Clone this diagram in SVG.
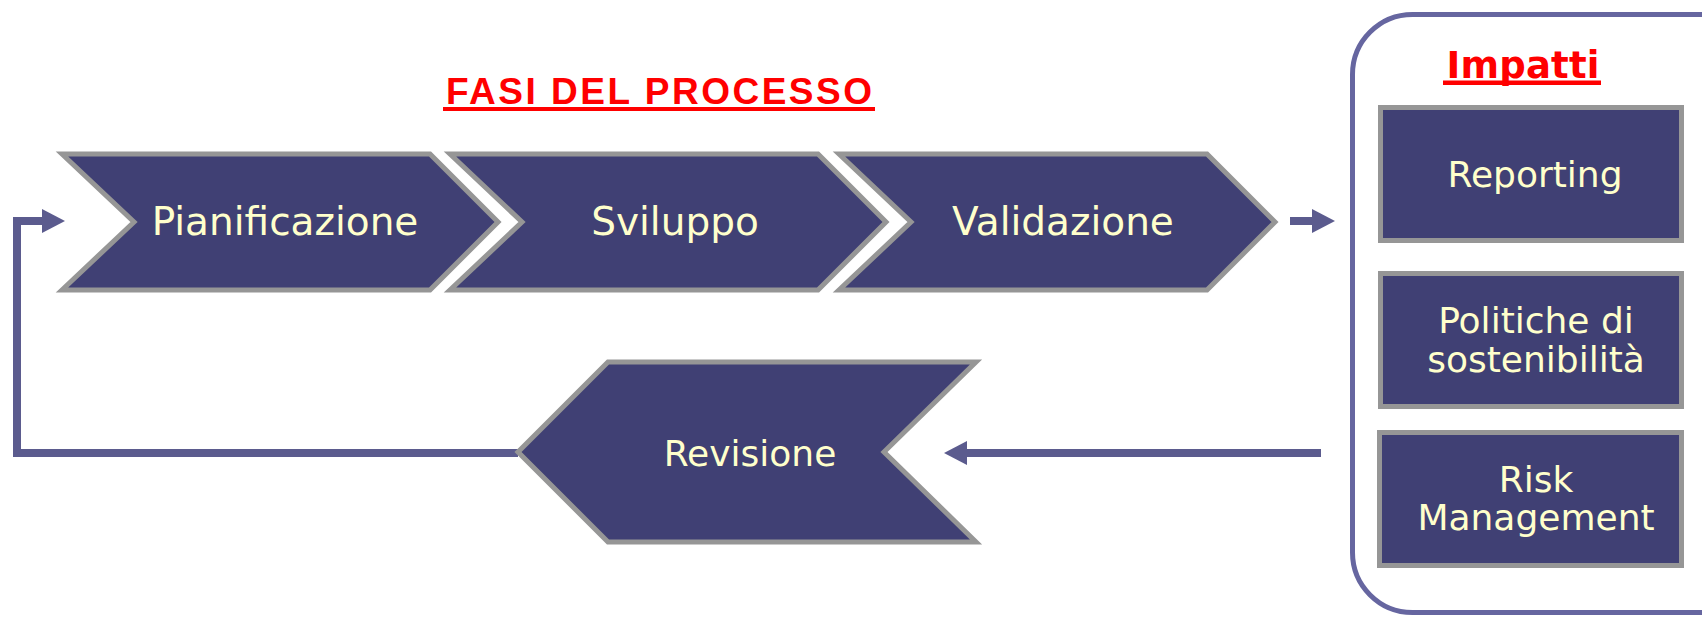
<svg xmlns="http://www.w3.org/2000/svg" width="1702" height="619" viewBox="0 0 1702 619">
<style>
.shape{fill:#404074;stroke:#969696;stroke-width:5;stroke-linejoin:miter}
.lbl{font-family:"DejaVu Sans",Verdana,sans-serif;fill:#FFFFCC;text-anchor:middle}
.big{font-size:39px}
.mid{font-size:36px}
.conn{fill:none;stroke:#5B5B8E;stroke-width:8;stroke-linejoin:miter}
.title{font-weight:bold;fill:#FF0000}
.uline{fill:#FF0000}
</style>
<defs>
<marker id="arr" markerUnits="userSpaceOnUse" markerWidth="24" markerHeight="24" refX="0" refY="12" orient="auto">
<path d="M0,0 L23,12 L0,24 Z" fill="#5B5B8E"/>
</marker>
</defs>
<rect id="impatti-container" x="1352.5" y="14.5" width="1360" height="598" rx="60" ry="60" fill="#FFFFFF" stroke="#6666A0" stroke-width="5"/>
<g id="connectors">
<polyline class="conn" points="518,453 17,453 17,221 42,221" marker-end="url(#arr)"/>
<line class="conn" x1="1290" y1="221" x2="1312" y2="221" marker-end="url(#arr)"/>
<line class="conn" x1="1321" y1="453" x2="967" y2="453" marker-end="url(#arr)"/>
</g>
<g id="title-fasi">
<text x="446" y="104" font-family="'Liberation Sans',Arial,sans-serif" font-size="37" class="title" textLength="426" lengthAdjust="spacing">FASI DEL PROCESSO</text>
<rect class="uline" x="443" y="107" width="432" height="4"/>
</g>
<g id="title-impatti">
<text x="1523" y="78" font-family="'DejaVu Sans',Verdana,sans-serif" font-size="37" class="title" text-anchor="middle" textLength="153" lengthAdjust="spacing">Impatti</text>
<rect class="uline" x="1443" y="80.5" width="158" height="4.5"/>
</g>
<g id="pianificazione">
<polygon class="shape" points="62,154 430,154 498,222 430,290 62,290 134,222"/>
<text class="lbl big" x="285" y="235">Pianificazione</text>
</g>
<g id="sviluppo">
<polygon class="shape" points="450,154 818,154 886,222 818,290 450,290 522,222"/>
<text class="lbl big" x="675" y="235">Sviluppo</text>
</g>
<g id="validazione">
<polygon class="shape" points="839,154 1207,154 1275,222 1207,290 839,290 911,222"/>
<text class="lbl big" x="1063" y="235">Validazione</text>
</g>
<g id="revisione">
<polygon class="shape" points="518,452 608,362 976,362 884,452 976,542 608,542"/>
<text class="lbl mid" x="750" y="466">Revisione</text>
</g>
<g id="reporting">
<rect class="shape" x="1380.5" y="107.5" width="301" height="133"/>
<text class="lbl mid" x="1535" y="187">Reporting</text>
</g>
<g id="politiche">
<rect class="shape" x="1380.5" y="273.5" width="301" height="133"/>
<text class="lbl mid" x="1536" y="333">Politiche di</text>
<text class="lbl mid" x="1536" y="372">sostenibilità</text>
</g>
<g id="risk">
<rect class="shape" x="1379.5" y="432.5" width="302" height="133"/>
<text class="lbl mid" x="1536" y="492">Risk</text>
<text class="lbl mid" x="1536" y="530">Management</text>
</g>
</svg>
